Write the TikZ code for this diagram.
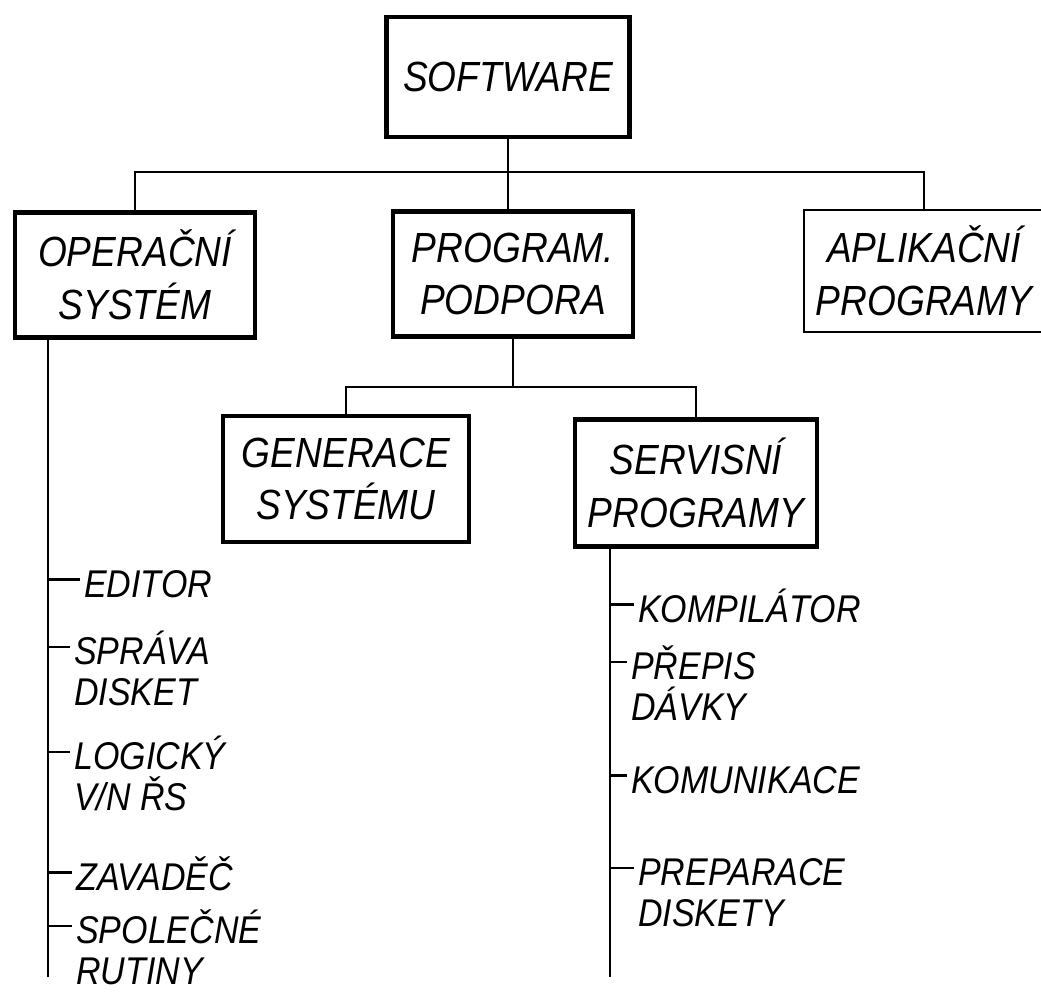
\documentclass[tikz,border=0pt]{standalone}
\usepackage{fontspec}
\newfontfamily\stencil[FakeStretch=0.88]{Liberation Sans}
\usetikzlibrary{positioning}

\begin{document}
\begin{tikzpicture}[
  x=0.1mm, y=-0.1mm,
  box/.style={draw,line width=1.4pt,align=center,minimum width=24mm,minimum height=12.5mm,font=\stencil\itshape\fontsize{12}{15}\selectfont},
  leaf/.style={anchor=base west,align=left,inner sep=1pt,font=\stencil\itshape\fontsize{11}{11.5}\selectfont},
  link/.style={line width=0.6pt},
  tick/.style={line width=0.8pt}
]
\useasboundingbox (0,0) rectangle (1041,994);
\node[box,minimum width=24.3mm,minimum height=12mm] (soft) at (508,77) {SOFTWARE};
\node[box] (opsys) at (135,275) {OPERAČNÍ\\SYSTÉM};
\node[box] (podpora) at (513,274) {PROGRAM.\\PODPORA};
\node[box,line width=0.8pt,minimum width=23.3mm,minimum height=12.2mm] (aplik) at (924,271) {APLIKAČNÍ\\PROGRAMY};
\node[box,minimum width=24.6mm,minimum height=12.6mm] (gener) at (346,479) {GENERACE\\SYSTÉMU};
\node[box,minimum width=24.2mm,minimum height=12.7mm] (servis) at (696,483) {SERVISNÍ\\PROGRAMY};

\coordinate (bus) at (508,172);
\coordinate (bus2) at (505,387);
\coordinate (osend) at (48,977);
\coordinate (svend) at (610,977);

\draw[link] (soft.south) -- (soft.south |- podpora.north);
\draw[link] (opsys.north) |- (bus) -| (aplik.north);
\draw[link] (podpora.south) -- (podpora.south |- bus2);
\draw[link] (gener.north) |- (bus2) -| (servis.north);
\draw[link] (opsys.south -| osend) -- (osend);
\draw[link] (servis.south -| svend) -- (svend);

% two-line leaves sit on the baseline of their last line
\node[leaf] (editor) at (80,597) {EDITOR};
\node[leaf] (sprava) at (70,705) {SPRÁVA\\DISKET};
\node[leaf] (logic) at (70,810) {LOGICKÝ\\V/N ŘS};
\node[leaf] (zavadec) at (72,890) {ZAVADĚČ};
\node[leaf] (rutiny) at (72,984) {SPOLEČNÉ\\RUTINY};
\node[leaf] (kompil) at (634,622) {KOMPILÁTOR};
\node[leaf] (prepis) at (627,720) {PŘEPIS\\DÁVKY};
\node[leaf] (komun) at (627,793) {KOMUNIKACE};
\node[leaf] (prepar) at (634,926) {PREPARACE\\DISKETY};

\draw[tick] ([yshift=5pt]editor.base west) -- ([yshift=5pt]editor.base west -| osend);
\draw[tick] ([yshift=16.5pt]sprava.base west) -- ([yshift=16.5pt]sprava.base west -| osend);
\draw[tick] ([yshift=16.5pt]logic.base west) -- ([yshift=16.5pt]logic.base west -| osend);
\draw[tick] ([yshift=5pt]zavadec.base west) -- ([yshift=5pt]zavadec.base west -| osend);
\draw[tick] ([yshift=16.5pt]rutiny.base west) -- ([yshift=16.5pt]rutiny.base west -| osend);
\draw[tick] ([yshift=5pt]kompil.base west) -- ([yshift=5pt]kompil.base west -| svend);
\draw[tick] ([yshift=16.5pt]prepis.base west) -- ([yshift=16.5pt]prepis.base west -| svend);
\draw[tick] ([yshift=5pt]komun.base west) -- ([yshift=5pt]komun.base west -| svend);
\draw[tick] ([yshift=16.5pt]prepar.base west) -- ([yshift=16.5pt]prepar.base west -| svend);
\end{tikzpicture}
\end{document}
